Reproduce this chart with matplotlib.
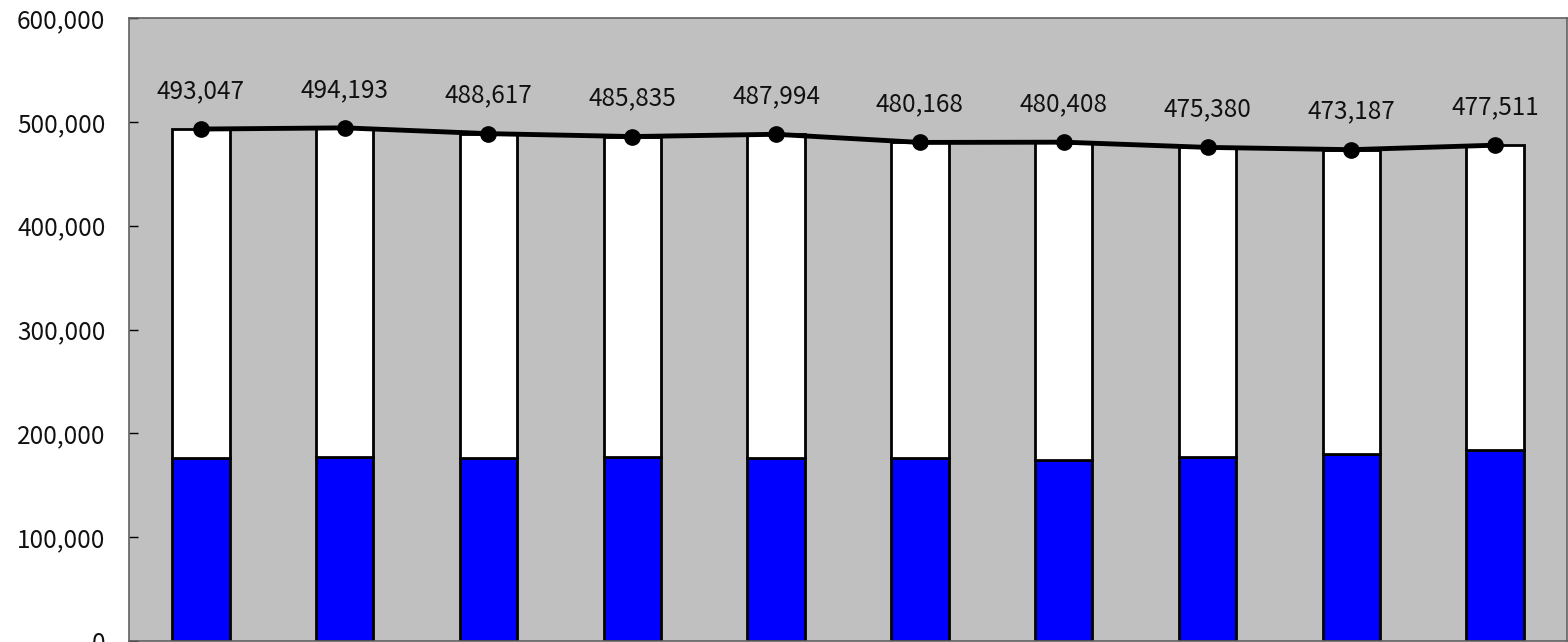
import numpy as np
import matplotlib
matplotlib.use("Agg")
from matplotlib import pyplot as plt

plt.rcParams['font.family'] = ['Noto Sans CJK JP', 'DejaVu Sans']

# values
totals = [493047, 494193, 488617, 485835, 487994, 480168, 480408, 475380, 473187, 477511]
blue = [176000, 177000, 176000, 177000, 176000, 176000, 174000, 177000, 180000, 184000]
rest = [t - b for t, b in zip(totals, blue)]
labels = ["{:,}".format(t) for t in totals]

fig = plt.figure(figsize=(15.68, 6.42), dpi=100)
ax = fig.add_axes([129/1568, 1/642, (1567-129)/1568, (641-18)/642])
ax.set_facecolor('#c0c0c0')

x = np.arange(len(totals))
ax.bar(x, blue, width=0.4, color='#0000ff', edgecolor='black', linewidth=2, zorder=2)
ax.bar(x, rest, width=0.4, bottom=blue, color='white', edgecolor='black', linewidth=2, zorder=2)
ax.plot(x, totals, color='black', linewidth=3.5, marker='o', markersize=11, zorder=3)

for i in range(len(totals)):
    ax.annotate(labels[i], (x[i], totals[i]), xytext=(0, 38), textcoords='offset pixels',
                ha='center', va='center', fontsize=17.5, color='#111111')

ax.set_xlim(-0.5, 9.5)
ax.set_ylim(0, 600000)
ax.set_yticks(range(0, 600001, 100000))
ax.set_yticklabels(["{:,}".format(v) for v in range(0, 600001, 100000)], fontsize=17.5, color='#111111')
ax.set_xticks([])
ax.tick_params(axis='y', direction='in', length=6.5, width=1, pad=17)
for s in ax.spines.values():
    s.set_color('#606060')
    s.set_linewidth(1.2)

fig.savefig("out.png", dpi=100)
